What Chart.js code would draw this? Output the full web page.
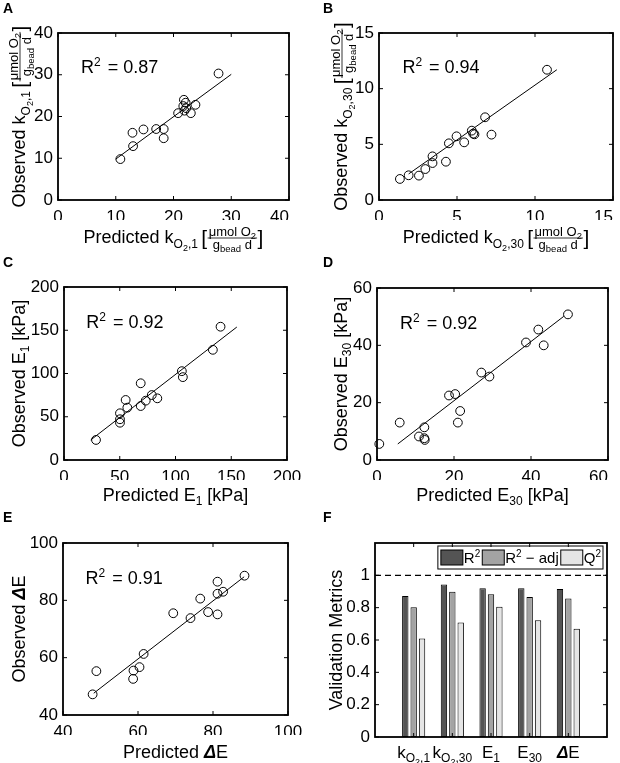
<!DOCTYPE html>
<html>
<head>
<meta charset="utf-8">
<script src="https://cdn.jsdelivr.net/npm/chart.js@4"></script>
<style>
  body { margin: 0; background: #fff; }
  #wrap { position: relative; width: 620px; height: 763px; }
  #wrap canvas { position: absolute; left: 0; top: 0; }
</style>
</head>
<body>
<div id="wrap">
  <canvas id="cA" width="620" height="763"></canvas>
  <canvas id="cB" width="620" height="763"></canvas>
  <canvas id="cC" width="620" height="763"></canvas>
  <canvas id="cD" width="620" height="763"></canvas>
  <canvas id="cE" width="620" height="763"></canvas>
  <canvas id="cF" width="620" height="763"></canvas>
</div>
<script>
// ---- data ----
// A: kO2,1
const predK1 = [10.8, 12.9, 13.0, 14.8, 17.0, 18.3, 18.3, 20.8, 21.8, 22.1, 21.7, 22.2, 21.9, 23.0, 23.8, 27.8];
const obsK1 = [9.8, 16.1, 12.9, 16.9, 17.0, 17.0, 14.8, 20.8, 24.0, 23.3, 22.5, 22.0, 21.4, 20.8, 22.8, 30.3];
const fitK1X = [10, 30];
const fitK1Y = [9.8, 30.1];

// B: kO2,30
const predK30 = [1.34, 1.90, 2.56, 2.97, 3.43, 3.43, 4.29, 4.48, 4.97, 5.46, 5.95, 6.04, 6.12, 6.80, 7.21, 10.77];
const obsK30 = [1.89, 2.22, 2.19, 2.78, 3.92, 3.32, 3.44, 5.09, 5.72, 5.18, 6.23, 5.96, 5.90, 7.43, 5.87, 11.70];
const fitK30X = [1.9, 11.4];
const fitK30Y = [2.34, 11.7];

// C: E1
const predE1 = [28.7, 50.2, 50.2, 50.2, 55.3, 56.8, 68.8, 68.8, 73.3, 78.7, 83.7, 105.7, 106.6, 133.5, 140.4];
const obsE1 = [23.2, 54.0, 47.1, 43.1, 69.4, 60.5, 62.4, 88.7, 68.6, 75.1, 71.3, 102.7, 95.8, 127.4, 154.1];
const fitE1X = [24, 155];
const fitE1Y = [23.2, 153.7];

// D: E30
const predE30 = [0.6, 5.9, 10.9, 12.3, 12.3, 12.4, 18.7, 20.3, 21.0, 21.6, 27.1, 29.2, 38.7, 41.9, 43.3, 49.6];
const obsE30 = [5.6, 13.05, 8.2, 11.4, 7.6, 7.0, 22.5, 23.0, 13.05, 17.1, 30.5, 29.1, 41.0, 45.5, 40.0, 50.8];
const fitE30X = [5.4, 48.5];
const fitE30Y = [5.6, 50.1];

// E: delta E
const predDE = [47.9, 48.9, 58.7, 58.8, 60.4, 61.5, 69.4, 74.0, 76.6, 78.7, 81.2, 81.2, 81.2, 82.7, 88.4];
const obsDE = [47.2, 55.3, 52.6, 55.5, 56.7, 61.3, 75.5, 73.8, 80.6, 75.9, 86.5, 82.3, 75.1, 83.0, 88.6];
const fitDEX = [48.2, 88.3];
const fitDEY = [47.6, 88.2];

const r2Text = ["0.87", "0.94", "0.92", "0.92", "0.91"];

// F: validation metrics
const metricLabels = ["kO2,1", "kO2,30", "E1", "E30", "\u0394E"];
const metricR2 = [0.872, 0.944, 0.920, 0.920, 0.916];
const metricR2adj = [0.802, 0.899, 0.883, 0.866, 0.856];
const metricQ2 = [0.609, 0.708, 0.805, 0.722, 0.669];
const legendNames = ["R2", "R2 - adj", "Q2"];

// ---- layout / text helpers ----
const FONT = '"Liberation Sans", Arial, Helvetica, sans-serif';
const W = 620, H = 763, YW = 40, XH = 20;

function S(t, size, dy, style) { return { t: t, size: size, dy: dy || 0, style: style || "" }; }
function fontOf(p) { return (p.style ? p.style + " " : "") + p.size + "px " + FONT; }

function richWidth(ctx, parts) {
  let w = 0;
  parts.forEach(p => {
    if (p.num) w += fracWidth(ctx, p);
    else if (p.gap) w += p.gap;
    else { ctx.font = fontOf(p); w += ctx.measureText(p.t).width; }
  });
  return w;
}
function fracWidth(ctx, f) { return Math.max(richWidth(ctx, f.num), richWidth(ctx, f.den)) + 3; }

function drawRich(ctx, parts, x, y) {
  parts.forEach(p => {
    if (p.num) {
      const w = fracWidth(ctx, p);
      const nw = richWidth(ctx, p.num), dw = richWidth(ctx, p.den);
      const ly = y - 5;
      drawRich(ctx, p.num, x + (w - nw) / 2, ly - 2.5);
      drawRich(ctx, p.den, x + (w - dw) / 2, ly + 11);
      ctx.lineWidth = 0.8;
      ctx.beginPath(); ctx.moveTo(x + 0.5, ly); ctx.lineTo(x + w - 0.5, ly); ctx.stroke();
      x += w;
    } else if (p.gap) {
      x += p.gap;
    } else {
      ctx.font = fontOf(p);
      ctx.fillText(p.t, x, y + p.dy);
      x += ctx.measureText(p.t).width;
    }
  });
}

const unitFrac = {
  num: [S("\u03bcmol O", 13), S("2", 9.5, 3)],
  den: [S("g", 13), S("bead", 9.5, 3), S(" d", 13)]
};
function kTitle(word, sub) {
  return [S(word + " k", 18), S("O", 12, 5), S("2", 9, 8), S("," + sub, 12, 5),
          S(" ", 12), S("[", 21, 2), unitFrac, S("]", 21, 2)];
}
function eTitle(word, sub) {
  return [S(word + " E", 18), S(sub, 12, 4), S(" [kPa]", 18)];
}
function dTitle(word) {
  return [S(word + " ", 18), S("\u0394", 18, 0, "bold italic"), S("E", 18)];
}
const richLabels = {
  "kO2,1": [S("k", 17), S("O", 12, 4), S("2", 9, 7), S(",1", 12, 4)],
  "kO2,30": [S("k", 17), S("O", 12, 4), S("2", 9, 7), S(",30", 12, 4)],
  "E1": [S("E", 17), S("1", 12, 4)],
  "E30": [S("E", 17), S("30", 12, 4)],
  "\u0394E": [S("\u0394", 17, 0, "bold italic"), S("E", 17)]
};

function drawCentered(ctx, parts, cx, base) {
  drawRich(ctx, parts, cx - richWidth(ctx, parts) / 2, base);
}
function drawRotated(ctx, parts, base, cy) {
  ctx.save();
  ctx.translate(base, cy);
  ctx.rotate(-Math.PI / 2);
  drawRich(ctx, parts, -richWidth(ctx, parts) / 2, 0);
  ctx.restore();
}

function line(ctx, x1, y1, x2, y2) {
  ctx.beginPath(); ctx.moveTo(x1, y1); ctx.lineTo(x2, y2); ctx.stroke();
}

function tickText(v) { return String(+v.toFixed(2)); }

function axis(r, which, extra, lastInside) {
  return Object.assign({
    type: "linear", min: r[0], max: r[1],
    ticks: {
      stepSize: r[2], font: { family: FONT, size: 17 }, color: "#000",
      padding: which === "x" ? 7 : 5, maxRotation: 0, autoSkip: false,
      // last x label sits inside the axis end (as in the figure)
      callback: (v, i, arr) => {
        const s = tickText(v);
        return lastInside && i === arr.length - 1 ? s + "\u2007".repeat(s.length) : s;
      }
    },
    grid: { display: false, drawTicks: false },
    border: { display: false },
    afterFit(s) {
      if (which === "x") s.height = XH; else s.width = YW;
      s.paddingLeft = s.paddingRight = s.paddingTop = s.paddingBottom = 0;
    }
  }, extra || {});
}

// box, inward ticks, titles, letter
function decoPlugin(cfg) {
  return {
    id: "deco",
    afterDraw(chart) {
      const ctx = chart.ctx, a = chart.chartArea;
      const xs = chart.scales.x, ys = chart.scales.y;
      ctx.save();
      ctx.strokeStyle = "#000";
      ctx.fillStyle = "#000";
      ctx.textBaseline = "alphabetic";
      ctx.textAlign = "left";

      if (cfg.extra) cfg.extra(chart, ctx, a);

      ctx.lineWidth = 1;
      cfg.xTicks(xs).forEach(px => {
        line(ctx, px, a.bottom, px, a.bottom - 4);
        line(ctx, px, a.top, px, a.top + 4);
      });
      ys.ticks.forEach(t => {
        const py = ys.getPixelForValue(t.value);
        line(ctx, a.left, py, a.left + 4, py);
        line(ctx, a.right, py, a.right - 4, py);
      });
      ctx.lineWidth = 1.8;
      ctx.strokeRect(a.left, a.top, a.right - a.left, a.bottom - a.top);

      if (cfg.xt) drawCentered(ctx, cfg.xt, (a.left + a.right) / 2, cfg.xtBase);
      drawRotated(ctx, cfg.yt, cfg.ytBase, (a.top + a.bottom) / 2);

      ctx.font = "bold 14px " + FONT;
      ctx.fillText(cfg.letter, cfg.lx, cfg.ly);
      ctx.restore();
    }
  };
}

function scatterPanel(cfg) {
  const pts = cfg.x.map((v, i) => ({ x: v, y: cfg.y[i] }));
  const fit = cfg.fitX.map((v, i) => ({ x: v, y: cfg.fitY[i] }));
  const b = cfg.box;
  cfg.xTicks = s => s.ticks.map(t => s.getPixelForValue(t.value));
  cfg.extra = (chart, ctx) => {
    // R^2 annotation at 10% / 80% of the axes
    const xs = chart.scales.x, ys = chart.scales.y;
    const tx = xs.getPixelForValue(xs.min + 0.1 * (xs.max - xs.min));
    const ty = ys.getPixelForValue(ys.min + 0.8 * (ys.max - ys.min)) + 6.5;
    drawRich(ctx, [S("R", 18), S("2", 12, -7), { gap: 7 }, S("=", 18), { gap: 5 }, S(cfg.r2, 18)], tx, ty);
  };
  return new Chart(document.getElementById(cfg.id), {
    type: "scatter",
    data: {
      datasets: [
        { data: pts, pointStyle: "circle", pointRadius: 4.4, borderColor: "#000",
          backgroundColor: "rgba(0,0,0,0)", borderWidth: 1, clip: false },
        { type: "line", data: fit, borderColor: "#000", borderWidth: 1,
          pointRadius: 0, showLine: true, fill: false, clip: false }
      ]
    },
    options: {
      responsive: false, animation: false, events: [],
      layout: { padding: { left: b[0] - YW, right: W - b[1], top: b[2], bottom: H - b[3] - XH } },
      plugins: { legend: { display: false }, tooltip: { enabled: false } },
      scales: { x: axis(cfg.xr, "x", null, cfg.lastInside), y: axis(cfg.yr, "y") }
    },
    plugins: [decoPlugin(cfg)]
  });
}

scatterPanel({ id: "cA", letter: "A", lx: 3, ly: 13, x: predK1, y: obsK1, fitX: fitK1X, fitY: fitK1Y,
  xr: [0, 40, 10], yr: [0, 40, 10], box: [58, 289, 33, 200], r2: r2Text[0], lastInside: true,
  xt: kTitle("Predicted", "1"), xtBase: 243, yt: kTitle("Observed", "1"), ytBase: 25 });

scatterPanel({ id: "cB", letter: "B", lx: 323, ly: 13, x: predK30, y: obsK30, fitX: fitK30X, fitY: fitK30Y,
  xr: [0, 15, 5], yr: [0, 15, 5], box: [379, 613, 33, 200], r2: r2Text[1], lastInside: true,
  xt: kTitle("Predicted", "30"), xtBase: 243, yt: kTitle("Observed", "30"), ytBase: 347 });

scatterPanel({ id: "cC", letter: "C", lx: 3, ly: 267, x: predE1, y: obsE1, fitX: fitE1X, fitY: fitE1Y,
  xr: [0, 200, 50], yr: [0, 200, 50], box: [64, 287, 287, 460], r2: r2Text[2],
  xt: eTitle("Predicted", "1"), xtBase: 501, yt: eTitle("Observed", "1"), ytBase: 25 });

scatterPanel({ id: "cD", letter: "D", lx: 323, ly: 267, x: predE30, y: obsE30, fitX: fitE30X, fitY: fitE30Y,
  xr: [0, 60, 20], yr: [0, 60, 20], box: [377, 608, 288, 460], r2: r2Text[3], lastInside: true,
  xt: eTitle("Predicted", "30"), xtBase: 501, yt: eTitle("Observed", "30"), ytBase: 347 });

scatterPanel({ id: "cE", letter: "E", lx: 3, ly: 522, x: predDE, y: obsDE, fitX: fitDEX, fitY: fitDEY,
  xr: [40, 100, 20], yr: [40, 100, 20], box: [63, 288, 543, 715], r2: r2Text[4],
  xt: dTitle("Predicted"), xtBase: 758, yt: dTitle("Observed"), ytBase: 25 });

// ---- panel F: grouped bars ----
const barColors = ["#545454", "#a3a3a3", "#e5e5e5"];
const padded = arr => [null].concat(arr, [null]);
const fCfg = {
  letter: "F", lx: 323, ly: 522, yt: [S("Validation Metrics", 18)], ytBase: 342,
  xTicks: s => metricLabels.map((m, i) => s.getPixelForValue(i + 1)),
  extra(chart, ctx, a) {
    const xs = chart.scales.x, ys = chart.scales.y;
    // dashed reference at 1
    const py = ys.getPixelForValue(1);
    ctx.save();
    ctx.setLineDash([6, 4]);
    ctx.lineWidth = 1.4;
    line(ctx, a.left, py, a.right, py);
    ctx.restore();
    // category labels
    metricLabels.forEach((m, i) => drawCentered(ctx, richLabels[m], xs.getPixelForValue(i + 1), 758));
    // legend box
    const lg = [[S("R", 15), S("2", 10, -6)],
                [S("R", 15), S("2", 10, -6), S(" \u2212 adj", 15)],
                [S("Q", 15), S("2", 10, -6)]];
    const bx = a.right - 4, by = a.top + 3, bh = 23;
    let w = 3;
    lg.forEach(p => { w += 22 + 1 + richWidth(ctx, p) + 2; });
    const left = bx - w;
    ctx.fillStyle = "#fff";
    ctx.fillRect(left, by, w, bh);
    ctx.lineWidth = 1;
    ctx.strokeRect(left, by, w, bh);
    let cx = left + 3;
    lg.forEach((p, i) => {
      ctx.fillStyle = barColors[i];
      ctx.fillRect(cx, by + 4, 22, 15);
      ctx.strokeRect(cx, by + 4, 22, 15);
      cx += 23;
      ctx.fillStyle = "#000";
      drawRich(ctx, p, cx, by + 17);
      cx += richWidth(ctx, p) + 2;
    });
  }
};

new Chart(document.getElementById("cF"), {
  type: "bar",
  data: {
    labels: [""].concat(metricLabels, [""]),
    datasets: [metricR2, metricR2adj, metricQ2].map((d, i) => ({
      label: legendNames[i], data: padded(d), backgroundColor: barColors[i],
      borderColor: "#000", borderWidth: 1, borderSkipped: false,
      categoryPercentage: 0.65, barPercentage: 0.76
    }))
  },
  options: {
    responsive: false, animation: false, events: [],
    layout: { padding: { left: 375 - YW, right: W - 607, top: 543, bottom: H - 737 - XH } },
    plugins: { legend: { display: false }, tooltip: { enabled: false } },
    scales: {
      x: {
        type: "category", offset: false,
        ticks: { display: false }, grid: { display: false, drawTicks: false }, border: { display: false },
        afterFit(s) { s.height = XH; s.paddingLeft = s.paddingRight = 0; }
      },
      y: axis([0, 1.2, 0.2], "y", {
        afterBuildTicks(s) { s.ticks = s.ticks.filter(t => t.value <= 1.0001); }
      })
    }
  },
  plugins: [decoPlugin(fCfg)]
});
</script>
</body>
</html>
